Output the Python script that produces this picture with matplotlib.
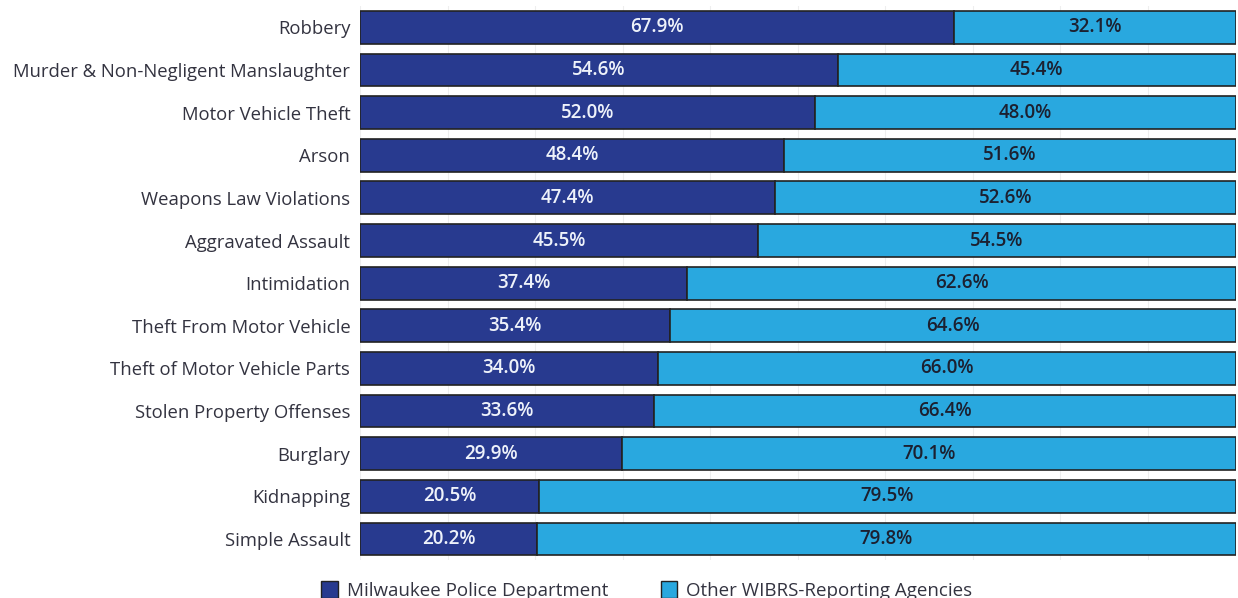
import matplotlib.pyplot as plt
from matplotlib.patches import Patch

# data
categories = ['Robbery', 'Murder & Non-Negligent Manslaughter', 'Motor Vehicle Theft', 'Arson',
              'Weapons Law Violations', 'Aggravated Assault', 'Intimidation',
              'Theft From Motor Vehicle', 'Theft of Motor Vehicle Parts',
              'Stolen Property Offenses', 'Burglary', 'Kidnapping', 'Simple Assault']
mpd = [67.9, 54.6, 52.0, 48.4, 47.4, 45.5, 37.4, 35.4, 34.0, 33.6, 29.9, 20.5, 20.2]
other = [32.1, 45.4, 48.0, 51.6, 52.6, 54.5, 62.6, 64.6, 66.0, 66.4, 70.1, 79.5, 79.8]
series_names = ['Milwaukee Police Department', 'Other WIBRS-Reporting Agencies']

dark = '#283a8f'
light = '#29a8df'
edge = '#222222'

plt.rcParams['font.family'] = ['Open Sans', 'DejaVu Sans']

fig = plt.figure(figsize=(12.38, 5.98), dpi=100)
ax = fig.add_axes([0.2908, 0.063, 0.7072, 0.927])

y = list(range(len(categories)))
ax.barh(y, mpd, height=0.77, color=dark, edgecolor=edge, linewidth=1.2, zorder=2)
ax.barh(y, other, left=mpd, height=0.77, color=light, edgecolor=edge, linewidth=1.2, zorder=2)

for i in y:
    ax.text(mpd[i] / 2, i, f'{mpd[i]:.1f}%', ha='center', va='center',
            color='#eef2fa', fontsize=13.5, fontweight='semibold', zorder=3)
    ax.text(mpd[i] + other[i] / 2, i, f'{other[i]:.1f}%', ha='center', va='center',
            color='#1c2030', fontsize=13.5, fontweight='semibold', zorder=3)

ax.set_xlim(0, 100)
ax.set_ylim(len(categories) - 0.5, -0.5)
ax.set_xticks(range(0, 101, 10))
ax.set_xticklabels([])
ax.grid(axis='x', color='#eeeeee', linewidth=0.8, zorder=0)
ax.set_yticks(y)
ax.set_yticklabels(categories, fontsize=13.3, color='#333340')
ax.tick_params(axis='both', length=0, pad=7)
for s in ax.spines.values():
    s.set_visible(False)

handles = [Patch(facecolor=dark, edgecolor=edge, linewidth=1.0),
           Patch(facecolor=light, edgecolor=edge, linewidth=1.0)]
fig.legend(handles, series_names, ncol=2, frameon=False, loc='center left',
           bbox_to_anchor=(0.252, 0.012), fontsize=13.5, handlelength=0.9,
           handleheight=1.0, handletextpad=0.45, columnspacing=2.8,
           labelcolor='#333340', borderpad=0)

fig.savefig('out.png', dpi=100)
